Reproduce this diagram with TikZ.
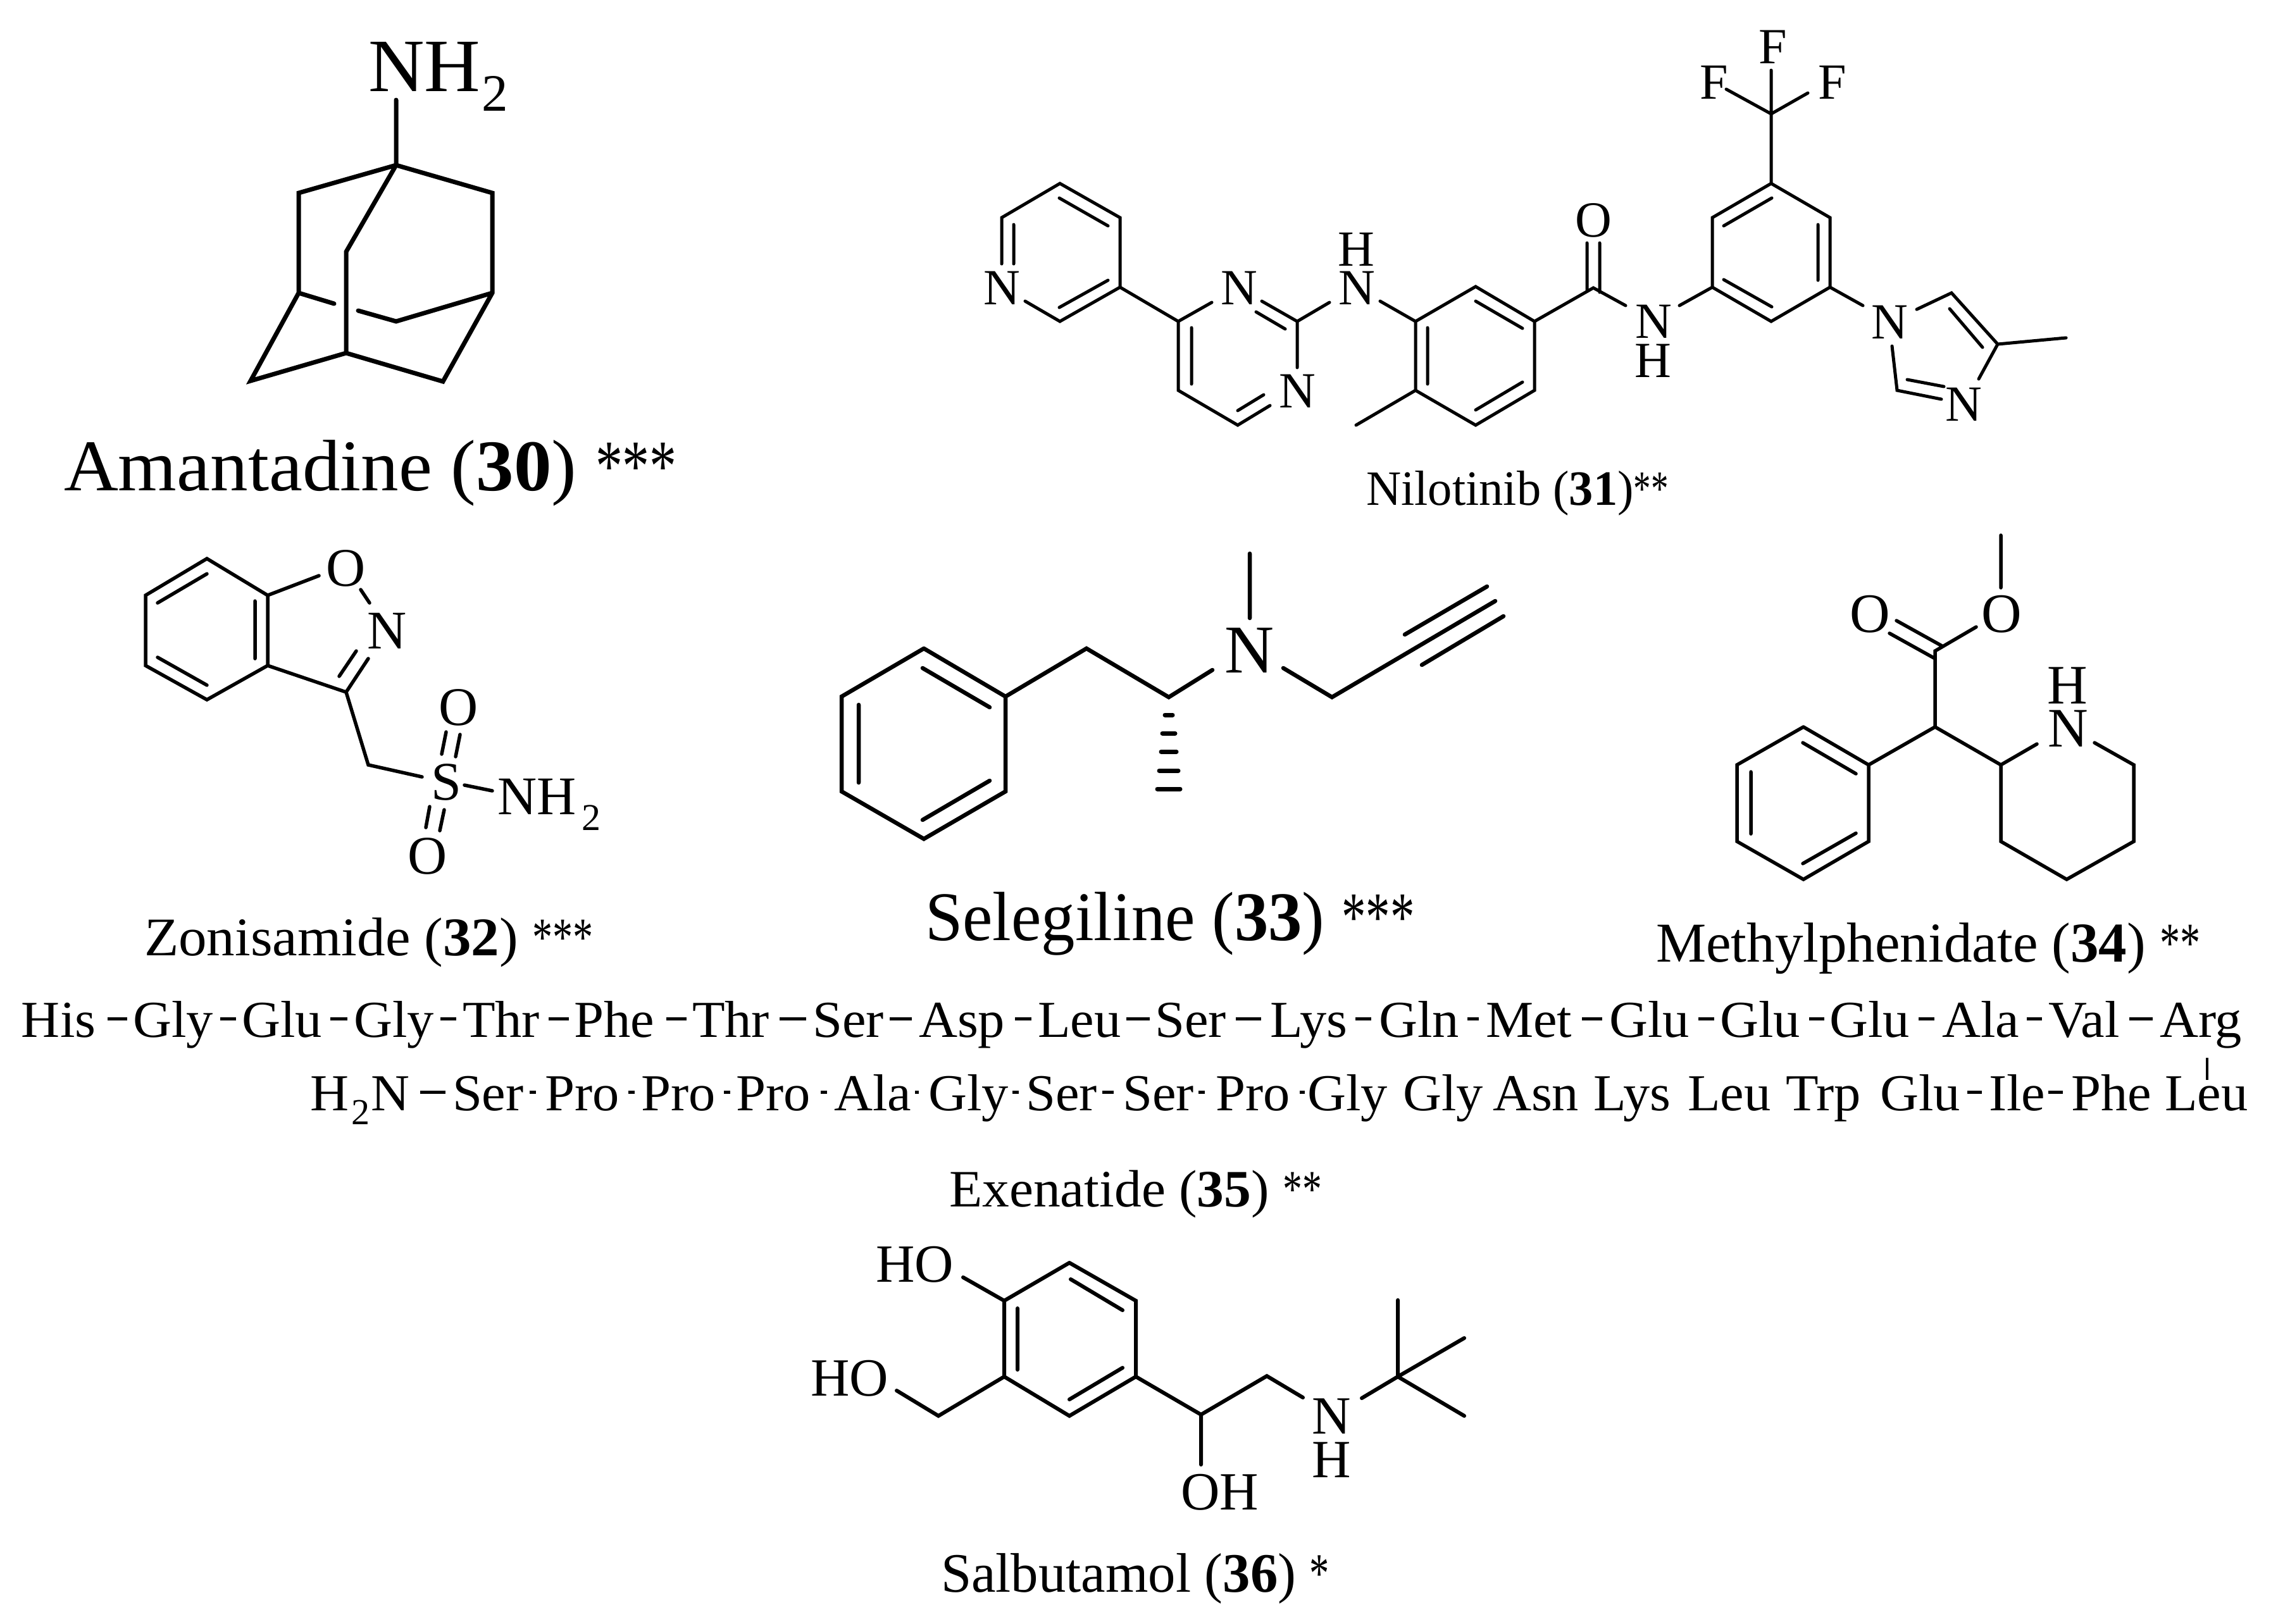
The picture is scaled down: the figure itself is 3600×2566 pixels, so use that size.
\documentclass[tikz,border=0pt]{standalone}
\usepackage{graphicx}
\usepackage{fontspec}
\setmainfont{Liberation Serif}
\newcommand{\pxf}[1]{\pgfmathparse{#1*0.28453}\fontsize{\pgfmathresult pt}{\pgfmathresult pt}\selectfont}
\newcommand{\stars}[1]{\scalebox{0.72}[1]{#1}}
\tikzset{
  bond/.style={draw=black,line width=#1*0.28453pt,line cap=round,line join=miter},
  lab/.style={anchor=base west,inner sep=0pt,outer sep=0pt,text=black,font=\pxf{#1}},
  xs/.style={xscale=#1,transform shape},
  res/.style={anchor=base west,inner sep=0pt,outer sep=0pt,text=black,font=\pxf{82},xs=1.03},
  link/.style={draw=black,line width=1.42pt,line cap=butt},
}
\begin{document}
\begin{tikzpicture}[x=0.01cm,y=-0.01cm]
\useasboundingbox (0,0) rectangle (3600,2566);
\fill[white] (0,0) rectangle (3600,2566);
% ---------- Amantadine
\path (626,158) coordinate (a0) (626,261) coordinate (a1) (472,305) coordinate (a2) (778,305) coordinate (a3)
 (472,463) coordinate (a4) (778,463) coordinate (a5) (547,398) coordinate (a6) (547,558) coordinate (a7)
 (396,602) coordinate (a8) (700,603) coordinate (a9) (626,508) coordinate (a10) (528,480) coordinate (a11) (566,491) coordinate (a12);
\draw[bond=7] (a0)--(a1) (a4)--(a2)--(a1)--(a3)--(a5)--(a9)--(a7)--(a8)--(a4)--(a11) (a1)--(a6)--(a7) (a12)--(a10)--(a5);
\node[lab=119,xs=1.03] (aN) at (582,144) {NH};
\node[lab=83] (aN2) at (761,175) {2};
\node[lab=115,xs=1.035] (aCap) at (101,775) {Amantadine (\textbf{30}) \stars{***}};
% ---------- Nilotinib
\path (1675,290) coordinate (n1) (1770,344) coordinate (n2) (1770,454) coordinate (n3) (1675,508) coordinate (n4)
 (1620,476) coordinate (n5) (1583,344) coordinate (n6) (1583,417) coordinate (n7)
 (1602,355) coordinate (n8) (1602,417) coordinate (n9) (1674,313) coordinate (n10) (1751,357) coordinate (n11)
 (1751,443) coordinate (n12) (1674,486) coordinate (n13)
 (1862,508) coordinate (n14) (1915,478) coordinate (n15) (2050,508) coordinate (n16) (1994,476) coordinate (n17)
 (1985,493) coordinate (n18) (2031,520) coordinate (n19) (2050,581) coordinate (n20) (1862,617) coordinate (n21)
 (1956,672) coordinate (n22) (2007,641) coordinate (n23) (1956,649) coordinate (n24) (1997,624) coordinate (n25)
 (1883,518) coordinate (n26) (1883,607) coordinate (n27) (2101,478) coordinate (n28) (2181,476) coordinate (n29)
 (2237,508) coordinate (n30) (2332,453) coordinate (n31) (2425,508) coordinate (n32) (2425,617) coordinate (n33)
 (2332,672) coordinate (n34) (2237,617) coordinate (n35) (2143,672) coordinate (n36)
 (2332,476) coordinate (n37) (2406,519) coordinate (n38) (2406,604) coordinate (n39) (2332,648) coordinate (n40)
 (2256,518) coordinate (n41) (2256,607) coordinate (n42) (2518,455) coordinate (n43)
 (2508,384) coordinate (n44) (2508,458) coordinate (n45) (2528,384) coordinate (n46) (2528,462) coordinate (n47)
 (2569,483) coordinate (n48) (2654,483) coordinate (n49) (2706,454) coordinate (n50) (2706,344) coordinate (n51)
 (2799,290) coordinate (n52) (2892,344) coordinate (n53) (2892,454) coordinate (n54) (2799,508) coordinate (n55)
 (2724,357) coordinate (n56) (2800,313) coordinate (n57) (2873,355) coordinate (n58) (2873,443) coordinate (n59)
 (2724,442) coordinate (n60) (2800,485) coordinate (n61) (2799,180) coordinate (n62) (2799,111) coordinate (n63)
 (2728,141) coordinate (n64) (2857,147) coordinate (n65) (2944,483) coordinate (n66) (3029,489) coordinate (n67)
 (3084,463) coordinate (n68) (3157,544) coordinate (n69) (3081,488) coordinate (n70) (3133,549) coordinate (n71)
 (3265,534) coordinate (n72) (3127,599) coordinate (n73) (2990,547) coordinate (n74) (2998,617) coordinate (n75)
 (3068,631) coordinate (n76) (3014,600) coordinate (n77) (3072,611) coordinate (n78);
\draw[bond=5] (n5)--(n4)--(n3)--(n2)--(n1)--(n6)--(n7) (n8)--(n9) (n10)--(n11) (n12)--(n13)
 (n3)--(n14)--(n15) (n14)--(n21)--(n22)--(n23) (n24)--(n25) (n26)--(n27) (n17)--(n16)--(n20) (n18)--(n19)
 (n16)--(n28) (n29)--(n30)--(n31)--(n32)--(n33)--(n34)--(n35)--(n30) (n35)--(n36) (n37)--(n38) (n39)--(n40) (n41)--(n42)
 (n32)--(n43)--(n48) (n44)--(n45) (n46)--(n47) (n49)--(n50)--(n51)--(n52)--(n53)--(n54)--(n55)--(n50)
 (n56)--(n57) (n58)--(n59) (n60)--(n61) (n52)--(n63) (n64)--(n62)--(n65) (n54)--(n66)
 (n67)--(n68)--(n69)--(n72) (n70)--(n71) (n69)--(n73) (n74)--(n75)--(n76) (n77)--(n78);
\node[lab=80] (nN1) at (1554,481) {N};
\node[lab=80] (nN2) at (1929,481) {N};
\node[lab=80] (nN3) at (2021,644) {N};
\node[lab=80] (nN4) at (2115,481) {N};
\node[lab=80] (nH4) at (2114,420) {H};
\node[lab=80] (nO) at (2489,374) {O};
\node[lab=80] (nN5) at (2584,534) {N};
\node[lab=80] (nH5) at (2583,596) {H};
\node[lab=80] (nF1) at (2779,100) {F};
\node[lab=80] (nF2) at (2686,156) {F};
\node[lab=80] (nF3) at (2873,156) {F};
\node[lab=80] (nN6) at (2957,535) {N};
\node[lab=80] (nN7) at (3074,665) {N};
\node[lab=78,xs=0.98] (nCap) at (2159,798) {Nilotinib (\textbf{31})\stars{**}};
% ---------- Zonisamide
\path (327,883) coordinate (z1) (423,941) coordinate (z2) (423,1052) coordinate (z3) (327,1106) coordinate (z4)
 (230,1052) coordinate (z5) (230,941) coordinate (z6) (249,953) coordinate (z7) (327,907) coordinate (z8)
 (249,1039) coordinate (z9) (327,1083) coordinate (z10) (403,950) coordinate (z11) (403,1041) coordinate (z12)
 (504,910) coordinate (z13) (570,932) coordinate (z14) (584,953) coordinate (z15) (547,1094) coordinate (z16)
 (582,1041) coordinate (z17) (536,1069) coordinate (z18) (563,1029) coordinate (z19) (582,1209) coordinate (z20)
 (667,1228) coordinate (z21) (698,1192) coordinate (z22) (705,1157) coordinate (z23) (720,1196) coordinate (z24)
 (727,1161) coordinate (z25) (673,1308) coordinate (z26) (679,1275) coordinate (z27) (695,1313) coordinate (z28)
 (702,1280) coordinate (z29) (734,1241) coordinate (z30) (778,1250) coordinate (z31);
\draw[bond=5.5] (z13)--(z2)--(z1)--(z6)--(z5)--(z4)--(z3)--(z2) (z7)--(z8) (z9)--(z10) (z11)--(z12)
 (z14)--(z15) (z3)--(z16)--(z17) (z18)--(z19) (z16)--(z20)--(z21) (z22)--(z23) (z24)--(z25) (z26)--(z27) (z28)--(z29) (z30)--(z31);
\node[lab=86] (zO1) at (515,926) {O};
\node[lab=86] (zN1) at (580,1025) {N};
\node[lab=86] (zS) at (681,1264) {S};
\node[lab=86] (zO2) at (693,1146) {O};
\node[lab=86] (zO3) at (644,1381) {O};
\node[lab=86] (zN2) at (786,1287) {NH};
\node[lab=60] (zN3) at (919,1312) {2};
\node[lab=86,xs=1.035] (zCap) at (228,1510) {Zonisamide (\textbf{32}) \stars{***}};
% ---------- Selegiline
\path (1460,1025) coordinate (s1) (1589,1101) coordinate (s2) (1589,1251) coordinate (s3) (1460,1326) coordinate (s4)
 (1330,1251) coordinate (s5) (1330,1101) coordinate (s6) (1458,1056) coordinate (s7) (1564,1118) coordinate (s8)
 (1564,1234) coordinate (s9) (1458,1296) coordinate (s10) (1357,1114) coordinate (s11) (1357,1237) coordinate (s12)
 (1717,1025) coordinate (s13) (1847,1102) coordinate (s14) (1916,1059) coordinate (s15) (1975,977) coordinate (s16)
 (1975,875) coordinate (s17) (2028,1056) coordinate (s18) (2105,1102) coordinate (s19) (2232,1029) coordinate (s20)
 (2363,950) coordinate (s21) (2220,1003) coordinate (s22) (2350,927) coordinate (s23) (2247,1051) coordinate (s24) (2376,974) coordinate (s25)
 (1841,1130) coordinate (h1a) (1853,1130) coordinate (h1b) (1837,1159) coordinate (h2a) (1857,1159) coordinate (h2b)
 (1835,1188) coordinate (h3a) (1859,1188) coordinate (h3b) (1832,1218) coordinate (h4a) (1862,1218) coordinate (h4b)
 (1829,1247) coordinate (h5a) (1865,1247) coordinate (h5b);
\draw[bond=6.5] (s1)--(s2)--(s3)--(s4)--(s5)--(s6)--(s1) (s7)--(s8) (s9)--(s10) (s11)--(s12)
 (s2)--(s13)--(s14)--(s15) (s16)--(s17) (s18)--(s19)--(s21) (s22)--(s23) (s24)--(s25);
\draw[bond=7] (h1a)--(h1b) (h2a)--(h2b) (h3a)--(h3b) (h4a)--(h4b) (h5a)--(h5b);
\node[lab=108] (sN) at (1935,1063) {N};
\node[lab=110,xs=0.97] (sCap) at (1462,1486) {Selegiline (\textbf{33}) \stars{***}};
% ---------- Methylphenidate
\path (2850,1149) coordinate (m1) (2953,1209) coordinate (m2) (2953,1330) coordinate (m3) (2850,1390) coordinate (m4)
 (2745,1330) coordinate (m5) (2745,1209) coordinate (m6) (2849,1174) coordinate (m7) (2933,1223) coordinate (m8)
 (2933,1317) coordinate (m9) (2849,1365) coordinate (m10) (2767,1220) coordinate (m11) (2767,1318) coordinate (m12)
 (3058,1149) coordinate (m13) (3058,1029) coordinate (m14) (2986,1001) coordinate (m15) (3058,1041) coordinate (m16)
 (2997,981) coordinate (m17) (3069,1021) coordinate (m18) (3123,991) coordinate (m19) (3162,929) coordinate (m20)
 (3162,846) coordinate (m21) (3162,1209) coordinate (m22) (3219,1176) coordinate (m23) (3310,1174) coordinate (m24)
 (3372,1209) coordinate (m25) (3372,1330) coordinate (m26) (3266,1390) coordinate (m27) (3162,1330) coordinate (m28);
\draw[bond=5.5] (m1)--(m2)--(m3)--(m4)--(m5)--(m6)--(m1) (m7)--(m8) (m9)--(m10) (m11)--(m12)
 (m2)--(m13)--(m14)--(m19) (m15)--(m16) (m17)--(m18) (m20)--(m21) (m13)--(m22)--(m23)
 (m24)--(m25)--(m26)--(m27)--(m28)--(m22);
\node[lab=88] (mO1) at (2923,999) {O};
\node[lab=88] (mO2) at (3131,999) {O};
\node[lab=88] (mN) at (3236,1180) {N};
\node[lab=88] (mH) at (3235,1112) {H};
\node[lab=89] (mCap) at (2617,1520) {Methylphenidate (\textbf{34}) \stars{**}};
% ---------- Exenatide
\foreach \x/\t [count=\i] in {34/His,210/Gly,382/Glu,559/Gly,731/Thr,907/Phe,1094/Thr,1284/Ser,1452/Asp,1640/Leu,1825/Ser,2007/Lys,2179/Gln,2348/Met,2543/Glu,2718/Glu,2891/Glu,3069/Ala,3237/Val,3413/Arg}
  \node[res] (pa\i) at (\x,1639) {\t};
\foreach \x/\t [count=\i] in {715/Ser,861/Pro,1013/Pro,1163/Pro,1318/Ala,1467/Gly,1621/Ser,1774/Ser,1921/Pro,2066/Gly,2217/Gly,2359/Asn,2518/Lys,2667/Leu,2822/Trp,2971/Glu,3143/Ile,3273/Phe,3421/Leu}
  \node[res] (pb\i) at (\x,1755) {\t};
\node[res] (pbH) at (490,1755) {H};
\node[lab=58] (pb2) at (555,1777) {2};
\node[res] (pbN) at (586,1755) {N};
\foreach \a/\b [count=\i] in {170/201,348/373,522/549,696/721,867/899,1053/1085,1232/1274,1406/1441,1604/1630,1780/1817,1953/1993,2142/2167,2319/2337,2500/2532,2684/2709,2859/2883,3032/3057,3203/3227,3365/3402}{
  \coordinate (da\i) at (\a,1610); \coordinate (db\i) at (\b,1610);
  \draw[link] (da\i)--(db\i);
}
\foreach \a/\b [count=\i] in {664/704,837/847,993/1003,1144/1154,1297/1307,1446/1452,1600/1610,1742/1760,1894/1904,2054/2062,3109/3132,3237/3260}{
  \coordinate (dc\i) at (\a,1726); \coordinate (dd\i) at (\b,1726);
  \draw[link] (dc\i)--(dd\i);
}
\coordinate (tk1) at (3488,1672); \coordinate (tk2) at (3488,1707);
\draw[draw=black,line width=1pt] (tk1)--(tk2);
\node[lab=83,xs=1.03] (eCap) at (1500,1907) {Exenatide (\textbf{35}) \stars{**}};
% ---------- Salbutamol
\path (1690,1996) coordinate (b1) (1795,2056) coordinate (b2) (1795,2176) coordinate (b3) (1690,2238) coordinate (b4)
 (1587,2176) coordinate (b5) (1587,2056) coordinate (b6) (1692,2022) coordinate (b7) (1774,2071) coordinate (b8)
 (1774,2162) coordinate (b9) (1690,2212) coordinate (b10) (1608,2068) coordinate (b11) (1608,2165) coordinate (b12)
 (1522,2019) coordinate (b13) (1417,2198) coordinate (b14) (1483,2238) coordinate (b15) (1898,2236) coordinate (b16)
 (2002,2175) coordinate (b17) (2059,2209) coordinate (b18) (1898,2315) coordinate (b19) (2152,2210) coordinate (b20)
 (2209,2176) coordinate (b21) (2209,2055) coordinate (b22) (2314,2115) coordinate (b23) (2314,2238) coordinate (b24);
\draw[bond=6] (b1)--(b2)--(b3)--(b4)--(b5)--(b6)--(b1) (b7)--(b8) (b9)--(b10) (b11)--(b12) (b6)--(b13)
 (b5)--(b15)--(b14) (b3)--(b16)--(b17)--(b18) (b16)--(b19) (b20)--(b21)--(b22) (b23)--(b21)--(b24);
\node[lab=85] (bHO1) at (1384,2026) {HO};
\node[lab=85] (bHO2) at (1281,2206) {HO};
\node[lab=85] (bOH) at (1866,2386) {OH};
\node[lab=85] (bN) at (2073,2266) {N};
\node[lab=85] (bH) at (2073,2335) {H};
\node[lab=88,xs=0.985] (bCap) at (1487,2516) {Salbutamol (\textbf{36}) \stars{*}};
\end{tikzpicture}
\end{document}
